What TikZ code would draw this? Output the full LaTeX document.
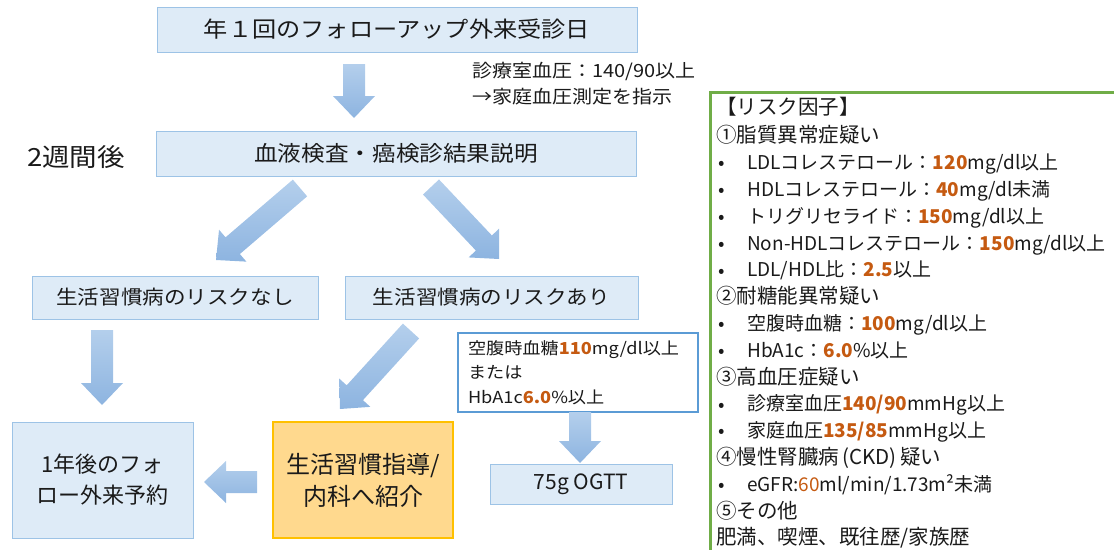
\documentclass[tikz,border=0pt]{standalone}
\usepackage{fontspec}
\setmainfont{Noto Sans CJK JP}
\newfontfamily\widefont[FakeStretch=1.1]{Noto Sans CJK JP}
\usetikzlibrary{calc}
\definecolor{boxfill}{HTML}{DEEBF7}
\definecolor{boxline}{HTML}{9DC3E6}
\definecolor{condline}{HTML}{5B9BD5}
\definecolor{shidofill}{HTML}{FFD98E}
\definecolor{shidoline}{HTML}{FFC000}
\definecolor{arrtop}{HTML}{B4CFEC}
\definecolor{arrbot}{HTML}{8DB4E0}
\definecolor{riskgreen}{HTML}{70AD47}
\definecolor{numor}{HTML}{C55A11}
\definecolor{txt}{HTML}{1A1A1A}
\newcommand\hl[1]{\textcolor{numor}{\textbf{#1}}}
\newcommand\hn[1]{\textcolor{numor}{#1}}
\newcommand\blockarrow[2]{%
  \coordinate (bah) at ($(#2)!22pt!(#1)$);
  \shade[top color=arrtop, bottom color=arrbot]
    ($(#1)!11pt!90:(#2)$) -- ($(bah)!11pt!90:(#2)$) -- ($(bah)!21pt!90:(#2)$)
    -- (#2) -- ($(bah)!21pt!-90:(#2)$) -- ($(bah)!11pt!-90:(#2)$)
    -- ($(#1)!11pt!-90:(#2)$) -- cycle;}
\tikzset{
  flowbox/.style={draw=boxline, fill=boxfill, line width=0.9pt, align=center,
    font=\widefont\fontsize{19.6}{24}\selectfont},
  risk/.style={anchor=west, text height=0.88em, text depth=0.12em,
    font=\fontsize{19}{23}\selectfont},
  riskhead/.style={anchor=west, text height=0.88em, text depth=0.12em,
    font=\fontsize{20.5}{24}\selectfont},
  bul/.style={anchor=center, font=\fontsize{19}{23}\selectfont},
  note/.style={anchor=west, text height=0.88em, text depth=0.12em,
    font=\widefont\fontsize{18.2}{22}\selectfont},
}
\begin{document}
\begin{tikzpicture}[x=1pt,y=-1pt, every node/.style={inner sep=0pt, text=txt}]
\useasboundingbox (0,0) rectangle (1114,549);
% flow boxes
\node[flowbox, minimum width=480pt, minimum height=45pt, font=\widefont\fontsize{22}{26}\selectfont] (top) at (397,29.5) {年１回のフォローアップ外来受診日};
\node[flowbox, minimum width=480pt, minimum height=45pt, font=\widefont\fontsize{21.5}{26}\selectfont] (exam) at (396,153.5) {血液検査・癌検診結果説明};
\node[font=\widefont\fontsize{25}{28}\selectfont] (weeks) at (76,157) {2週間後};
\node[note] (note1) at (472,74) {診療室血圧：140/90以上};
\node[note] (note2) at (472,100) {→家庭血圧測定を指示};
\node[flowbox, minimum width=286pt, minimum height=43pt] (nashi) at (175,297.5) {生活習慣病のリスクなし};
\node[flowbox, minimum width=293pt, minimum height=43pt] (ari) at (491.5,297.5) {生活習慣病のリスクあり};
\node[draw=condline, fill=white, line width=2pt, minimum width=240pt, minimum height=79pt,
  text width=220pt, align=left, font=\widefont\fontsize{16.5}{24.5}\selectfont] (cond) at (578,372.5)
  {空腹時血糖\hl{110}mg/dl以上\\または\\HbA1c\hl{6.0}\%以上};
\node[flowbox, minimum width=182pt, minimum height=40pt, font=\fontsize{21}{25}\selectfont] (ogtt) at (581,484) {75g OGTT};
\node[flowbox, minimum width=181pt, minimum height=116pt, font=\fontsize{22}{31}\selectfont] (yoyaku) at (102.5,480) {1年後のフォ\\ロー外来予約};
\node[draw=shidoline, fill=shidofill, line width=2.5pt, minimum width=180pt, minimum height=116pt,
  align=center, font=\fontsize{24}{32}\selectfont] (shido) at (363,480) {生活習慣指導/\\内科へ紹介};
% block arrows
\coordinate (a1s) at (354,64);  \coordinate (a1e) at (354,118);
\coordinate (a2s) at (300,188); \coordinate (a2e) at (216,260);
\coordinate (a3s) at (431,187); \coordinate (a3e) at (499,259);
\coordinate (a4s) at (102,330); \coordinate (a4e) at (102,405);
\coordinate (a5s) at (411,331); \coordinate (a5e) at (340,409);
\coordinate (a6s) at (580,412); \coordinate (a6e) at (580,463);
\coordinate (a7s) at (257,482); \coordinate (a7e) at (204,482);
\blockarrow{a1s}{a1e}
\blockarrow{a2s}{a2e}
\blockarrow{a3s}{a3e}
\blockarrow{a4s}{a4e}
\blockarrow{a5s}{a5e}
\blockarrow{a6s}{a6e}
\blockarrow{a7s}{a7e}
% risk factor panel
\draw[riskgreen, line width=3pt] (710,92) rectangle (1135,565);
\node[riskhead] (r0) at (716,111) {【リスク因子】};
\foreach \k/\t/\b in {
  0/{①脂質異常症疑い}/0,
  1/{LDLコレステロール：\hl{120}mg/dl以上}/1,
  2/{HDLコレステロール：\hl{40}mg/dl未満}/1,
  3/{トリグリセライド：\hl{150}mg/dl以上}/1,
  4/{Non-HDLコレステロール：\hl{150}mg/dl以上}/1,
  5/{LDL/HDL比：\hl{2.5}以上}/1,
  6/{②耐糖能異常疑い}/0,
  7/{空腹時血糖：\hl{100}mg/dl以上}/1,
  8/{HbA1c：\hl{6.0}\%以上}/1,
  9/{③高血圧症疑い}/0,
  10/{診療室血圧\hl{140/90}mmHg以上}/1,
  11/{家庭血圧\hl{135/85}mmHg以上}/1,
  12/{④慢性腎臓病\,(CKD)\,疑い}/0,
  13/{eGFR:\hn{60}ml/min/1.73m²未満}/1,
  14/{⑤その他}/0,
  15/{肥満、喫煙、既往歴/家族歴}/0}{
  \pgfmathsetmacro\yy{139+26.8*\k}
  \ifnum\b=1
    \node[bul] (rb\k) at (722,\yy) {•};
    \node[risk] (r\k) at (747,\yy) {\t};
  \else
    \node[riskhead] (r\k) at (716,\yy) {\t};
  \fi
}
\end{tikzpicture}
\end{document}
